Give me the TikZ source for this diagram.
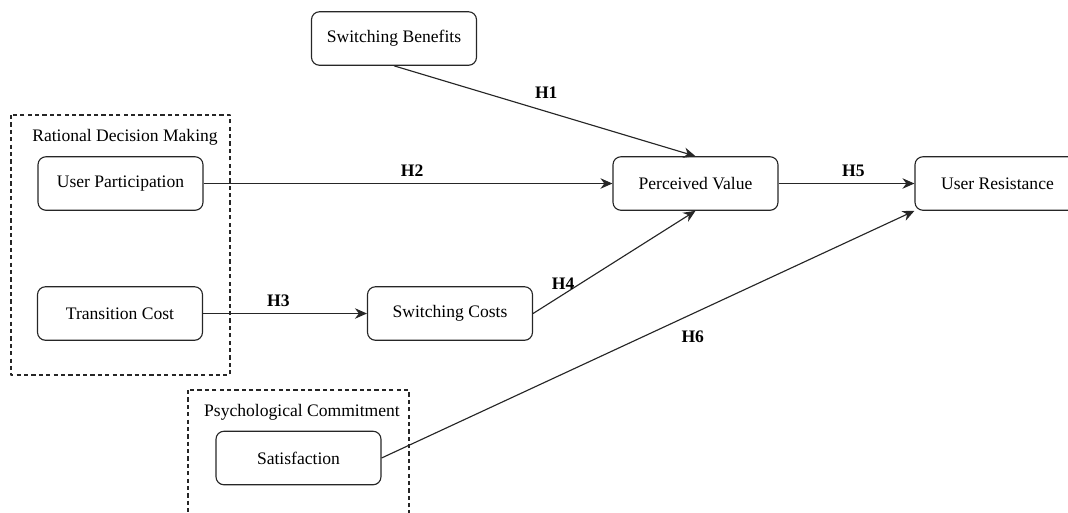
\documentclass[tikz,border=0pt]{standalone}
\usepackage{fontspec}
\setmainfont{Liberation Serif}
\usetikzlibrary{arrows.meta}
\begin{document}
\begin{tikzpicture}[x=0.02cm, y=-0.02cm, line join=round, >={Stealth[length=2.4mm, width=2.1mm]}]

		\tikzset{
			var/.style={draw=black!85, line width=0.65pt, rounded corners=4.5pt, minimum width=3.3cm, minimum height=1.07cm, font=\fontsize{10}{12}\selectfont},
			hyp/.style={font=\fontsize{10}{12}\selectfont\bfseries},
			group/.style={draw=black!85, line width=0.6pt, dash pattern=on 2.4pt off 1.8pt},
			grouptitle/.style={font=\fontsize{10}{12}\selectfont},
			link/.style={->, draw=black!85, line width=0.65pt}
		}

		\clip (0,0) rectangle (1068,512);

		% groups
		\draw[group] (11,115) rectangle (230,375);
		\node[grouptitle] (rdm) at (125,137) {Rational Decision Making};
		\draw[group] (188,390) rectangle (409,530);
		\node[grouptitle] (pc) at (302,412) {Psychological Commitment};

		% variables
		\node[var] (sb) at (394,38.5) {Switching Benefits};
		\node[var] (up) at (120.5,183.5) {User Participation};
		\node[var] (tc) at (120,313.5) {Transition Cost};
		\node[var] (sc) at (450,313.5) {Switching Costs};
		\node[var] (pv) at (695.5,183.5) {Perceived Value};
		\node[var] (ur) at (997.5,183.5) {User Resistance};
		\node[var] (sat) at (298.5,458) {Satisfaction};

		% hypotheses
		\draw[link] (sb.south) -- (pv.north) node[hyp, pos=0.505, yshift=0.38cm] {H1};
		\draw[link] (up.east) -- (pv.west) node[hyp, pos=0.51, yshift=0.26cm] {H2};
		\draw[link] (tc.east) -- (sc.west) node[hyp, pos=0.46, yshift=0.26cm] {H3};
		\draw[link] (sc.east) -- (pv.south) node[hyp, pos=0.185, yshift=0.22cm] {H4};
		\draw[link] (pv.east) -- (ur.west) node[hyp, pos=0.55, yshift=0.26cm] {H5};
		\draw[link] (sat.east) -- (ur.south west) node[hyp, pos=0.584, yshift=-0.46cm] {H6};
		\end{tikzpicture}
\end{document}
